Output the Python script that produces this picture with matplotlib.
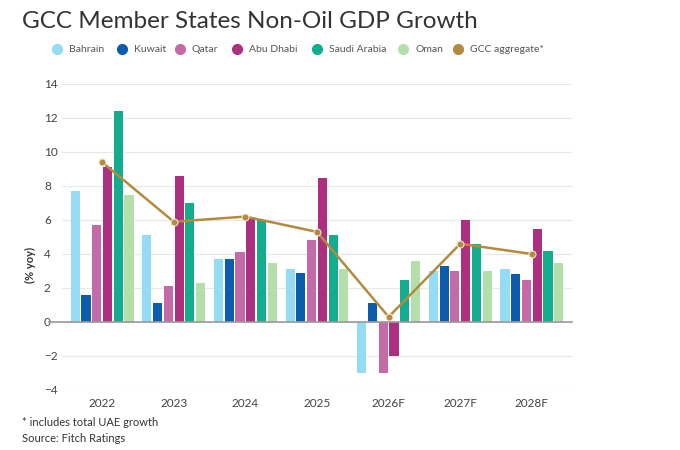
import numpy as np
import matplotlib
matplotlib.use("Agg")
import matplotlib.pyplot as plt
from matplotlib.lines import Line2D

plt.rcParams['font.family'] = ['Lato', 'DejaVu Sans']

years = ["2022", "2023", "2024", "2025", "2026F", "2027F", "2028F"]
countries = ["Bahrain", "Kuwait", "Qatar", "Abu Dhabi", "Saudi Arabia", "Oman"]
bahrain = [7.7, 5.1, 3.7, 3.1, -3.0, 3.0, 3.1]
kuwait = [1.6, 1.1, 3.7, 2.9, 1.1, 3.3, 2.8]
qatar = [5.7, 2.1, 4.1, 4.8, -3.0, 3.0, 2.5]
abu_dhabi = [9.1, 8.6, 6.1, 8.5, -2.0, 6.0, 5.5]
saudi = [12.4, 7.0, 6.0, 5.1, 2.5, 4.6, 4.2]
oman = [7.5, 2.3, 3.5, 3.1, 3.6, 3.0, 3.5]
gcc = [9.4, 5.9, 6.2, 5.3, 0.3, 4.6, 4.0]

colors = ["#93dcf3", "#0b5cad", "#c46aa9", "#ad2f7f", "#14ac8e", "#b4dfaa"]
gcc_color = "#b38b3e"

fig = plt.figure(figsize=(6.8, 4.5), dpi=100)
ax = fig.add_axes([62/680, 1-390/450, 510/680, 306/450])

x = np.arange(len(years))
pitch = 0.15
width = 0.127
series = [bahrain, kuwait, qatar, abu_dhabi, saudi, oman]
for i, vals in enumerate(series):
    ax.bar(x + (i - 2.5) * pitch, vals, width, color=colors[i], zorder=2)

ax.plot(x, gcc, color=gcc_color, lw=1.8, marker='o', ms=5,
        mfc=gcc_color, mec="#f3e3cf", mew=0.8, zorder=3)

ax.set_xlim(-0.56, 6.56)
ax.set_ylim(-4, 14)
ax.set_yticks(range(-4, 15, 2))
ax.grid(axis='y', color='#e8e8e8', lw=0.9, zorder=0)
ax.axhline(0, xmin=-0.025, xmax=1, color='#9a9a9a', lw=1.2, zorder=4, clip_on=False)
for s in ax.spines.values():
    s.set_visible(False)
ax.set_xticks(x)
ax.set_xticklabels(years)
ax.tick_params(axis='both', length=0, colors='#444444', labelsize=8.5)
ax.tick_params(axis='x', pad=6)
ax.tick_params(axis='y', pad=13)
for lab in ax.get_yticklabels():
    lab.set_horizontalalignment('left')

fig.text(30/680, 1-265/450, "(% yoy)", rotation=90, ha='center', va='center',
         fontsize=8, fontweight='bold', color='#333333')

fig.text(22/680, 1-22/450, "GCC Member States Non-Oil GDP Growth",
         fontsize=17.5, color='#333333', va='center', ha='left')

# legend
leg_x = [57, 122, 180, 237, 317, 403, 458]
labels = countries + ["GCC aggregate*"]
leg_colors = colors + [gcc_color]
for lx, lab, c in zip(leg_x, labels, leg_colors):
    fig.add_artist(Line2D([lx/680], [1-49/450], marker='o', ms=7, color=c,
                          lw=0, transform=fig.transFigure))
    fig.text((lx + 12)/680, 1-49/450, lab, fontsize=7.5, color='#555555',
             va='center', ha='left')

fig.text(22/680, 1-423/450, "* includes total UAE growth", fontsize=8,
         color='#333333', va='center')
fig.text(22/680, 1-439/450, "Source: Fitch Ratings", fontsize=8,
         color='#333333', va='center')

fig.savefig("out.png", dpi=100)
